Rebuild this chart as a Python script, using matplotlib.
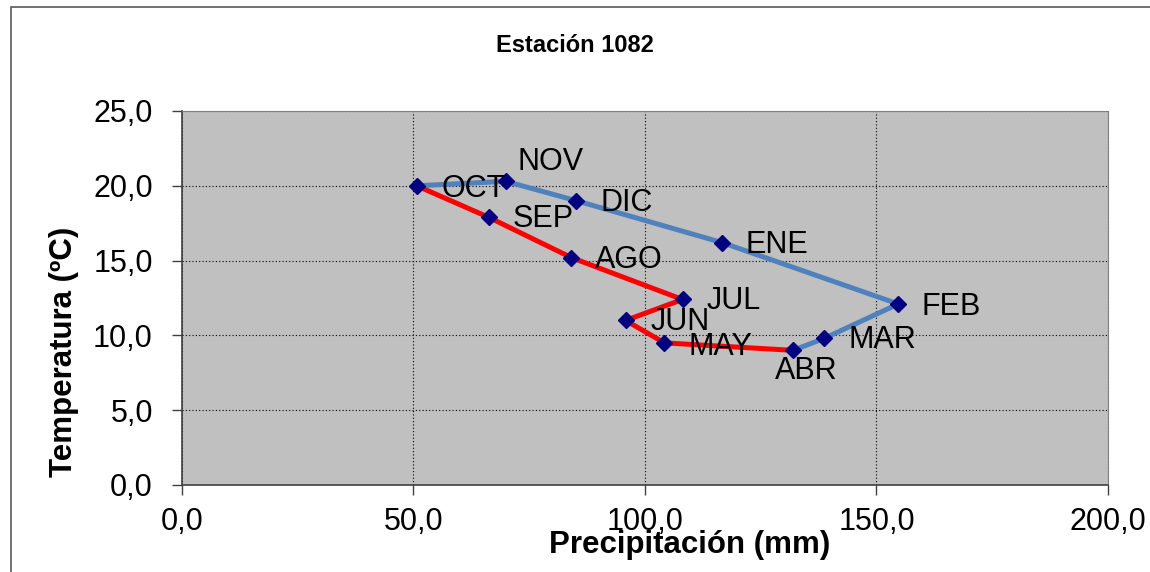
import matplotlib.pyplot as plt
import matplotlib.patches as patches
from matplotlib.ticker import FuncFormatter, MultipleLocator

plt.rcParams["font.family"] = ["Liberation Sans", "DejaVu Sans"]

COLOR_BG = "#c0c0c0"
COLOR_BLUE = "#4f81bd"
COLOR_RED = "#ff0000"
COLOR_MARK = "#000080"

months = ["ENE", "FEB", "MAR", "ABR", "MAY", "JUN", "JUL", "AGO", "SEP", "OCT", "NOV", "DIC"]
precip = [116.7, 154.7, 138.7, 132.0, 104.2, 95.8, 108.1, 84.1, 66.2, 50.7, 69.9, 85.2]
temp = [16.2, 12.1, 9.8, 9.0, 9.5, 11.0, 12.4, 15.2, 17.9, 20.0, 20.3, 19.0]

# wet season (blue): OCT -> ABR, dry season (red): ABR -> OCT
blue_order = ["OCT", "NOV", "DIC", "ENE", "FEB", "MAR", "ABR"]
red_order = ["ABR", "MAY", "JUN", "JUL", "AGO", "SEP", "OCT"]

# label offsets in pixels (dx, dy)
label_off = {
    "ENE": (23, -2), "FEB": (23, -3), "MAR": (24, -2), "ABR": (-18, -21),
    "MAY": (24, -4), "JUN": (25, -2), "JUL": (24, -2), "AGO": (24, -2),
    "SEP": (24, -2), "OCT": (25, -3), "NOV": (12, 19), "DIC": (24, -2),
}

idx = {m: i for i, m in enumerate(months)}

fig = plt.figure(figsize=(11.5, 5.72), dpi=100)
ax = fig.add_axes([182 / 1150, 87 / 572, 926 / 1150, 374 / 572])
ax.set_facecolor(COLOR_BG)

for order, color in [(blue_order, COLOR_BLUE), (red_order, COLOR_RED)]:
    xs = [precip[idx[m]] for m in order]
    ys = [temp[idx[m]] for m in order]
    ax.plot(xs, ys, color=color, lw=3.6, solid_capstyle="round", zorder=3)

ax.plot(precip, temp, "D", color=COLOR_MARK, markersize=8.5, zorder=4, lw=0)

for m, xx, yy in zip(months, precip, temp):
    dx, dy = label_off[m]
    ax.annotate(m, (xx, yy), xytext=(dx, dy), textcoords="offset pixels",
                ha="left", va="center", fontsize=22, zorder=5)

ax.set_xlim(0, 200)
ax.set_ylim(0, 25)
ax.xaxis.set_major_locator(MultipleLocator(50))
ax.yaxis.set_major_locator(MultipleLocator(5))
fmt = FuncFormatter(lambda v, p: f"{v:.1f}".replace(".", ","))
ax.xaxis.set_major_formatter(fmt)
ax.yaxis.set_major_formatter(fmt)
ax.tick_params(axis="both", labelsize=22, direction="out", length=7, width=1, color="#404040")
ax.tick_params(axis="x", pad=9)
ax.tick_params(axis="y", pad=14)
ax.grid(True, color="black", linestyle=(0, (1, 2)), lw=0.8)
ax.set_axisbelow(True)

for s in ["top", "right"]:
    ax.spines[s].set_color("#808080")
for s in ["left", "bottom"]:
    ax.spines[s].set_color("#404040")
    ax.spines[s].set_linewidth(1.2)

fig.text(575 / 1150, 1 - 52 / 572, "Estación 1082", ha="center", va="baseline",
         fontsize=17, fontweight="bold")
fig.text(690 / 1150, 1 - 553 / 572, "Precipitación (mm)", ha="center", va="baseline",
         fontsize=22.5, fontweight="bold")
fig.text(64 / 1150, 1 - 352 / 572, "Temperatura (ºC)", ha="center", va="center",
         fontsize=22.5, fontweight="bold", rotation=90)

# chart area border (cropped on right and bottom)
fig.patches.append(patches.Rectangle((11 / 1150, -0.1), 1.2, 1 - 7 / 572 + 0.1,
                                     transform=fig.transFigure, fill=False,
                                     edgecolor="#595959", lw=1.2))

fig.savefig("out.png", dpi=100)
